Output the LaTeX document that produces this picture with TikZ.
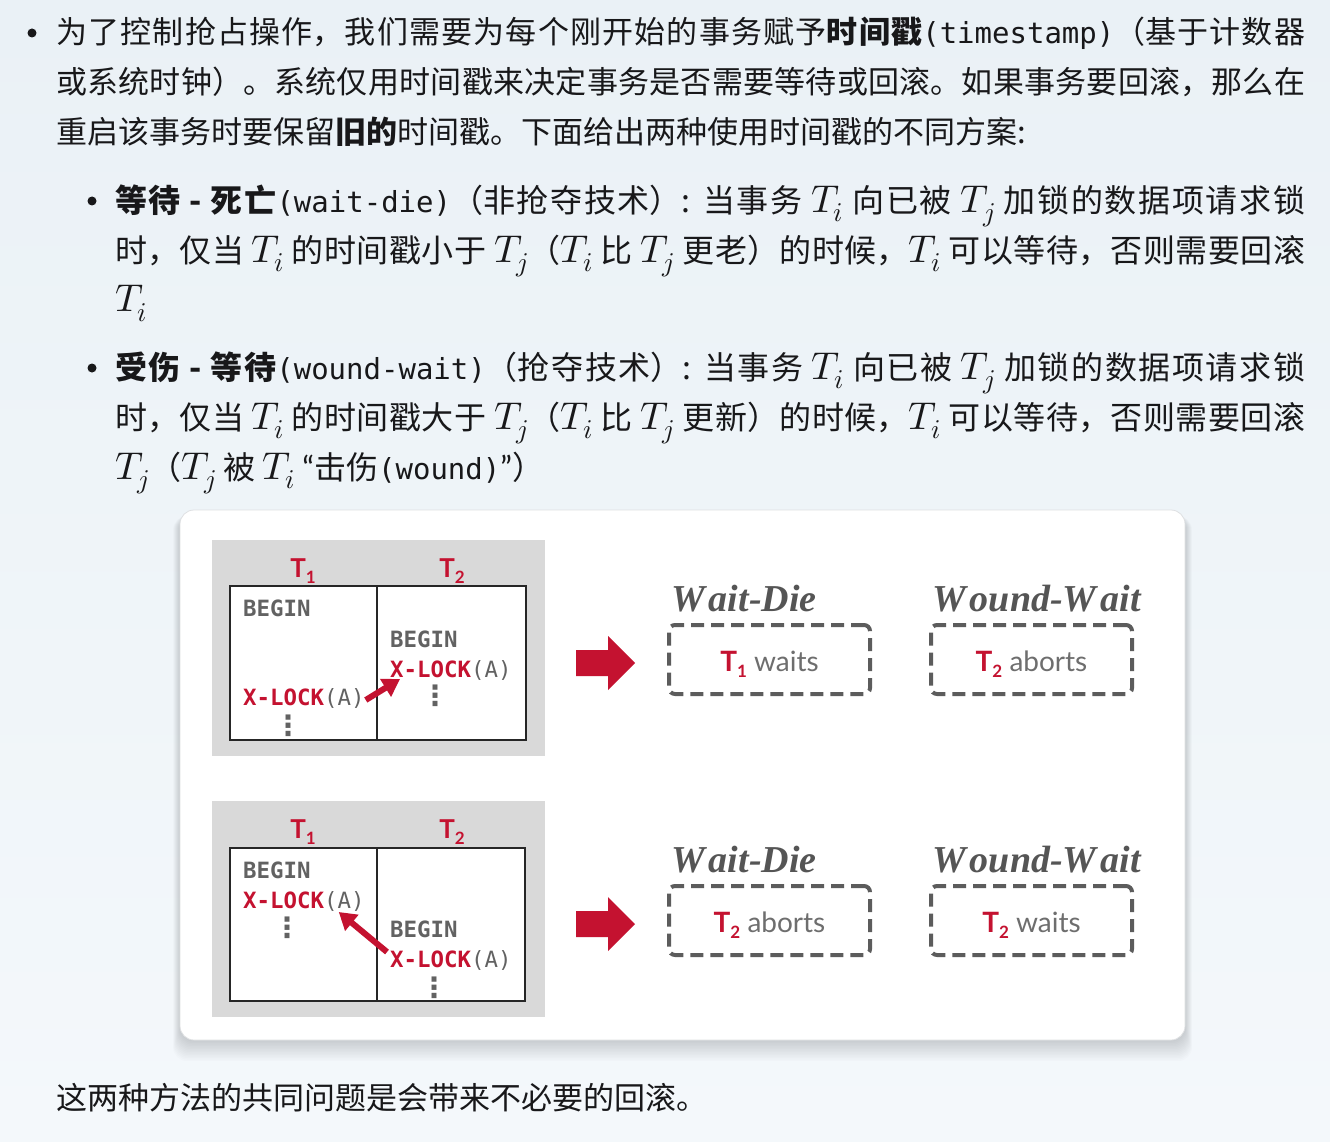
\documentclass[tikz,border=0pt]{standalone}
\usepackage{fontspec}
\usepackage{unicode-math}
\setmainfont{Noto Sans CJK SC}
\setmonofont{DejaVu Sans Mono}
\setmathfont{Latin Modern Math}[Scale=1.21]
\newfontfamily\lblfont{Lato}
\newfontfamily\titlefont{Liberation Serif}
\newfontfamily\symfont{DejaVu Sans}
\usetikzlibrary{arrows.meta,calc}
\XeTeXlinebreaklocale "zh"
\XeTeXlinebreakskip=0pt plus 4pt
\tolerance=10000
\hbadness=10000
\definecolor{bgtop}{RGB}{234,241,246}
\definecolor{bgbot}{RGB}{244,248,251}
\definecolor{inkc}{RGB}{24,24,26}
\definecolor{cmured}{RGB}{196,18,48}
\definecolor{panelgray}{RGB}{217,217,217}
\definecolor{codegray}{RGB}{98,98,98}
\definecolor{dashgray}{RGB}{92,92,92}
\definecolor{titlegray}{RGB}{85,85,85}
\definecolor{txtgray}{RGB}{110,110,110}
\definecolor{cardline}{RGB}{222,224,226}
\newcommand\subnum[1]{\raisebox{-6pt}{\fontsize{17}{17}\selectfont #1}}
\newcommand\lockarg[1]{{\mdseries\color{codegray}#1}}
\newcommand\redT[1]{{\color{cmured}\bfseries T\subnum{#1}}}
\newcommand\mono[1]{\mbox{\fontsize{29}{50}\selectfont\texttt{#1}}}
\newcommand\openq{{\lblfont “}}
\newcommand\closeq{{\lblfont ”}}
\tikzset{
  bodytext/.style={anchor=base west, inner sep=0pt, text width=#1, align=justify,
    font=\fontsize{32}{50}\selectfont, text=inkc},
  tlab/.style={anchor=base, inner sep=0pt, font=\lblfont\bfseries\fontsize{26}{26}\selectfont, text=cmured},
  code/.style={anchor=base west, inner sep=0pt, font=\ttfamily\bfseries\fontsize{22.4}{22.4}\selectfont, text=codegray},
  vdot/.style={inner sep=0pt, font=\symfont\bfseries\fontsize{28}{28}\selectfont, text=codegray},
  tablebox/.style={draw=black!85, line width=1.3pt},
  lockarrow/.style={draw=cmured, line width=6pt, -{Triangle[length=17pt,width=20pt]}},
  wtitle/.style={anchor=base west, inner sep=0pt, font=\titlefont\bfseries\itshape\fontsize{38}{38}\selectfont, text=titlegray},
  outcome/.style={draw=dashgray, line width=4pt, dash pattern=on 13pt off 7pt, rounded corners=6pt,
    minimum width=201pt, minimum height=69pt, inner sep=0pt, text height=24pt, text depth=0pt,
    font=\lblfont\fontsize{28}{28}\selectfont, text=txtgray},
  blockarrow/.style={fill=cmured}
}
\begin{document}
\begin{tikzpicture}[x=1pt,y=-1pt]
\useasboundingbox (0,0) rectangle (1330,1142);
\shade[top color=bgtop, bottom color=bgbot] (0,0) rectangle (1330,1142);

% ---- text ----
\fill[inkc] (32,33) circle (4.5);
\node[bodytext=1249pt, font=\fontsize{31}{50}\selectfont] (para1) at (56,44) {为了控制抢占操作，我们需要为每个刚开始的事务赋予\textbf{时间戳}\mono{(timestamp)}（基于计数器\linebreak 或系统时钟）。系统仅用时间戳来决定事务是否需要等待或回滚。如果事务要回滚，那么在\linebreak 重启该事务时要保留\textbf{旧的}时间戳。下面给出两种使用时间戳的不同方案:};

\fill[inkc] (92,201) circle (4.5);
\node[bodytext=1190pt] (para2) at (115,212) {\textbf{等待 - 死亡}\mono{(wait-die)}（非抢夺技术）: 当事务 $T_i$ 向已被 $T_j$ 加锁的数据项请求锁\linebreak 时，仅当 $T_i$ 的时间戳小于 $T_j$（$T_i$ 比 $T_j$ 更老）的时候，$T_i$ 可以等待，否则需要回滚\linebreak $T_i$};

\fill[inkc] (92,368) circle (4.5);
\node[bodytext=1190pt] (para3) at (115,379) {\textbf{受伤 - 等待}\mono{(wound-wait)}（抢夺技术）: 当事务 $T_i$ 向已被 $T_j$ 加锁的数据项请求锁\linebreak 时，仅当 $T_i$ 的时间戳大于 $T_j$（$T_i$ 比 $T_j$ 更新）的时候，$T_i$ 可以等待，否则需要回滚\linebreak $T_j$（$T_j$ 被 $T_i$ \openq 击伤\mono{(wound)}\closeq ）};

\node[bodytext=1190pt, font=\fontsize{31}{50}\selectfont] (concl) at (56,1109) {这两种方法的共同问题是会带来不必要的回滚。};

% ---- card ----
\foreach \i in {1,...,14} {
  \fill[black, opacity=0.01, rounded corners=14pt] (180-0.5*\i,516) rectangle (1185+0.5*\i,1040+1.5*\i);
}
\fill[white, draw=cardline, line width=0.8pt, rounded corners=14pt] (180,510) rectangle (1185,1040);

% ---- top panel ----
\fill[panelgray] (212,540) rectangle (545,756);
\draw[tablebox, fill=white] (230,586) rectangle (526,740);
\draw[tablebox] (377,586) -- (377,740);
\node[tlab] (at1) at (303,577) {T\subnum{1}};
\node[tlab] (at2) at (452,577) {T\subnum{2}};
\node[code] (ab1) at (243,616) {BEGIN};
\node[code] (ax1) at (243,705) {\textcolor{cmured}{X-LOCK}\lockarg{(A)}};
\node[vdot] (ad1) at (288,726) {⋮};
\node[code] (ab2) at (390,647) {BEGIN};
\node[code] (ax2) at (390,677) {\textcolor{cmured}{X-LOCK}\lockarg{(A)}};
\node[vdot] (ad2) at (435,696) {⋮};
\draw[lockarrow] ($(ax1.base east)+(1,-5)$) -- ($(ax2.base west)+(10,2)$);
\fill[blockarrow] (576,650) -- (608,650) -- (608,636) -- (635,663) -- (608,690) -- (608,676) -- (576,676) -- cycle;
\node[wtitle] (awd) at (671,611) {W\kern4pt ait-Die};
\node[wtitle] (aww) at (932,611) {W\kern4pt ound-W\kern4pt ait};
\node[outcome] (ao1) at (769.5,659.5) {\redT{1} waits};
\node[outcome] (ao2) at (1031.5,659.5) {\redT{2} aborts};

% ---- bottom panel ----
\fill[panelgray] (212,801) rectangle (545,1017);
\draw[tablebox, fill=white] (230,848) rectangle (525,1001);
\draw[tablebox] (377,848) -- (377,1001);
\node[tlab] (bt1) at (303,838) {T\subnum{1}};
\node[tlab] (bt2) at (452,838) {T\subnum{2}};
\node[code] (bb1) at (243,878) {BEGIN};
\node[code] (bx1) at (243,908) {\textcolor{cmured}{X-LOCK}\lockarg{(A)}};
\node[vdot] (bd1) at (287,928) {⋮};
\node[code] (bb2) at (390,937) {BEGIN};
\node[code] (bx2) at (390,967) {\textcolor{cmured}{X-LOCK}\lockarg{(A)}};
\node[vdot] (bd2) at (434,988) {⋮};
\draw[lockarrow] ($(bx2.base west)+(-3,-15)$) -- ($(bx1.base east)+(-26,4)$);
\fill[blockarrow] (576,911) -- (608,911) -- (608,897) -- (635,924) -- (608,951) -- (608,937) -- (576,937) -- cycle;
\node[wtitle] (bwd) at (671,872) {W\kern4pt ait-Die};
\node[wtitle] (bww) at (932,872) {W\kern4pt ound-W\kern4pt ait};
\node[outcome] (bo1) at (769.5,920.5) {\redT{2} aborts};
\node[outcome] (bo2) at (1031.5,920.5) {\redT{2} waits};
\end{tikzpicture}
\end{document}
